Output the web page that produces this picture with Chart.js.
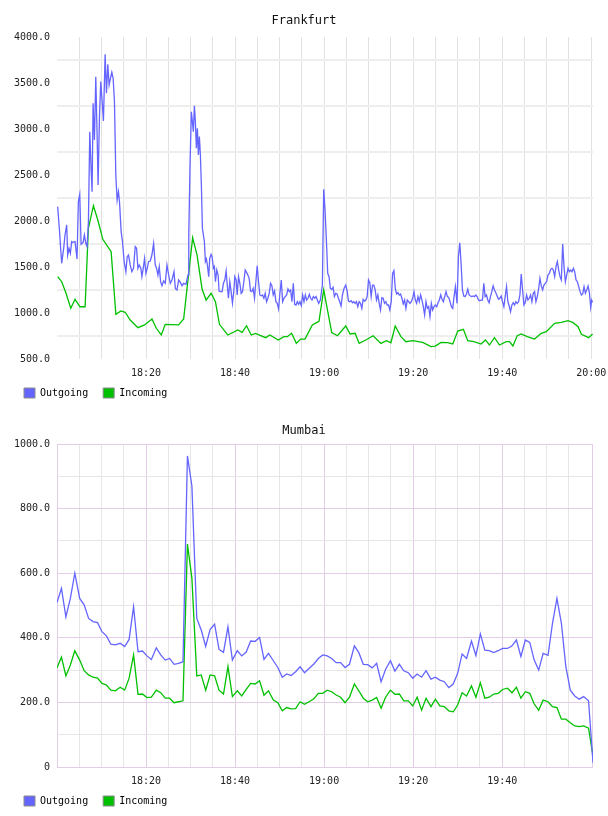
<!DOCTYPE html>
<html><head><meta charset="utf-8">
<script src="https://cdn.jsdelivr.net/npm/chart.js@4.4.1/dist/chart.umd.min.js"></script>
<style>
html,body{margin:0;padding:0;background:#fff;}
#wrap{position:relative;width:608px;height:816px;overflow:hidden;}
canvas{position:absolute;left:0;}
#c1{top:0}
#c2{top:408px}
</style></head><body>
<div id="wrap"><canvas id="c1" width="608" height="408"></canvas><canvas id="c2" width="608" height="408"></canvas></div>
<script>
// ---------------- DATA ----------------
const seriesNames = ['Outgoing', 'Incoming'];
const chartTitles = ['Frankfurt', 'Mumbai'];

// minutes after 18:00 at which the time labels sit, and their texts
const xLabelMinutes = [20, 40, 60, 80, 100, 120];
const frankfurtXLabels = ['18:20', '18:40', '19:00', '19:20', '19:40', '20:00'];
const mumbaiXLabels = ['18:20', '18:40', '19:00', '19:20', '19:40', ''];

// value-axis labels
const frankfurtYLabels = [500, 1000, 1500, 2000, 2500, 3000, 3500, 4000];
const mumbaiYLabels = [0, 200, 400, 600, 800, 1000];

// Frankfurt outgoing: [minutes after 18:00, value]
const frankfurtOutgoing = [
[0.15,2156],[0.52,1921],[1.05,1540],[1.50,1703],[1.80,1848],[2.18,1957],[2.40,1630],[2.70,1703],[3.00,1649],[3.30,1775],
[3.53,1768],[4.05,1775],[4.50,1587],[4.80,2210],[5.11,2290],[5.41,1747],[5.86,1768],[6.16,1848],[6.46,1757],[6.76,1721],
[7.06,1993],[7.36,2971],[7.66,2573],[7.88,2319],[8.11,3279],[8.41,2881],[8.71,3569],[9.01,2935],[9.23,2391],[9.53,3116],
[9.83,3515],[10.14,3297],[10.43,3087],[10.81,3812],[11.11,3388],[11.41,3703],[11.71,3478],[12.01,3551],[12.31,3616],[12.61,3551],
[12.91,3297],[13.21,2500],[13.51,2228],[13.81,2319],[14.04,2210],[14.41,1884],[14.71,1775],[15.09,1558],[15.47,1449],[15.77,1612],
[16.07,1630],[16.44,1522],[16.82,1449],[17.19,1486],[17.57,1721],[17.87,1703],[18.17,1486],[18.47,1522],[18.84,1486],[19.07,1395],
[19.37,1486],[19.67,1594],[19.97,1431],[20.27,1486],[20.57,1558],[20.95,1565],[21.32,1630],[21.70,1757],[22.07,1522],[22.37,1486],
[22.67,1413],[22.97,1504],[23.27,1340],[23.57,1297],[23.95,1348],[24.32,1323],[24.70,1522],[25.08,1413],[25.45,1323],[25.83,1359],
[26.28,1449],[26.58,1268],[26.95,1250],[27.33,1359],[27.70,1333],[28.08,1297],[28.45,1323],[28.98,1312],[29.43,1413],[29.60,1850],
[29.88,2600],[30.18,3188],[30.41,3080],[30.63,2971],[30.86,3253],[31.08,3080],[31.31,2790],[31.53,3007],[31.76,2717],[31.98,2917],
[32.21,2717],[32.43,2391],[32.66,1921],[32.88,1848],[33.11,1775],[33.33,1558],[33.56,1587],[33.78,1522],[34.08,1395],[34.31,1594],
[34.61,1638],[34.83,1612],[35.14,1486],[35.36,1504],[35.59,1340],[35.89,1467],[36.19,1413],[36.41,1239],[36.71,1232],[37.09,1232],
[37.39,1323],[37.69,1359],[37.99,1457],[38.21,1323],[38.51,1160],[38.81,1340],[39.11,1232],[39.41,1105],[39.71,1232],[39.94,1395],
[40.24,1359],[40.47,1196],[40.77,1395],[41.07,1323],[41.37,1214],[41.67,1232],[41.97,1340],[42.27,1467],[42.57,1442],[42.87,1413],
[43.17,1377],[43.47,1239],[43.77,1232],[44.07,1268],[44.37,1160],[44.67,1340],[44.97,1514],[45.27,1340],[45.57,1196],[45.87,1188],
[46.17,1196],[46.47,1160],[46.77,1214],[47.07,1123],[47.37,1160],[47.67,1214],[47.97,1323],[48.27,1297],[48.57,1196],[48.87,1239],
[49.17,1123],[49.47,1105],[49.77,1044],[50.07,1214],[50.38,1359],[50.68,1123],[50.98,1160],[51.28,1178],[51.58,1196],[51.88,1261],
[52.18,1232],[52.48,1250],[52.78,1123],[53.08,1323],[53.38,1094],[53.68,1087],[53.98,1123],[54.28,1094],[54.58,1123],[54.88,1080],
[55.18,1196],[55.48,1123],[55.78,1196],[56.08,1141],[56.38,1160],[56.68,1203],[56.98,1160],[57.28,1141],[57.58,1178],[57.88,1160],
[58.18,1178],[58.48,1141],[58.78,1105],[59.16,1141],[59.61,1304],[59.91,2344],[60.21,2120],[60.51,1794],[60.81,1431],[61.11,1395],
[61.41,1268],[61.71,1258],[62.01,1279],[62.31,1178],[62.61,1214],[62.91,1207],[63.21,1160],[63.51,1123],[63.81,1076],[64.11,1196],
[64.49,1268],[64.86,1304],[65.16,1242],[65.47,1130],[65.77,1123],[66.07,1134],[66.37,1112],[66.67,1123],[66.97,1105],[67.27,1123],
[67.57,1069],[67.87,1123],[68.17,1105],[68.47,1051],[68.77,1149],[69.07,1130],[69.37,1141],[69.67,1178],[69.97,1359],[70.27,1329],
[70.57,1178],[70.87,1304],[71.17,1304],[71.47,1250],[71.77,1141],[72.07,1196],[72.37,1105],[72.67,1033],[72.97,1167],[73.27,1160],
[73.57,1105],[73.87,1123],[74.17,1087],[74.47,1087],[74.77,1033],[75.08,1123],[75.38,1431],[75.68,1460],[75.98,1268],[76.28,1207],
[76.58,1221],[76.88,1196],[77.18,1207],[77.48,1160],[77.78,1098],[78.08,1141],[78.38,1051],[78.68,1141],[78.98,1123],[79.28,1105],
[79.58,1123],[79.88,1160],[80.18,1232],[80.48,1141],[80.78,1105],[81.08,1178],[81.38,1123],[81.68,1196],[81.98,1141],[82.28,1069],
[82.58,978],[82.88,1123],[83.18,1051],[83.48,1069],[83.78,960],[84.08,1105],[84.38,1033],[84.68,1069],[84.98,1087],[85.29,1069],
[85.59,1112],[85.89,1141],[86.19,1196],[86.49,1149],[86.79,1123],[87.09,1178],[87.39,1232],[87.69,1178],[87.99,1170],[88.29,1123],
[88.59,1069],[88.89,1051],[89.19,1178],[89.49,1286],[89.86,1105],[90.17,1612],[90.47,1764],[90.77,1540],[91.07,1250],[91.37,1185],
[91.67,1178],[91.97,1207],[92.27,1258],[92.57,1196],[92.87,1185],[93.17,1178],[93.47,1185],[93.77,1178],[94.07,1196],[94.37,1178],
[94.67,1141],[94.97,1134],[95.27,1141],[95.57,1141],[95.87,1323],[96.17,1178],[96.47,1196],[96.77,1141],[97.07,1112],[97.37,1178],
[97.67,1232],[97.97,1294],[98.27,1250],[98.57,1221],[98.87,1185],[99.17,1149],[99.47,1160],[99.77,1185],[100.07,1123],[100.38,1069],
[100.68,1178],[100.98,1286],[101.28,1123],[101.58,1076],[101.88,1014],[102.18,1087],[102.48,1112],[102.78,1087],[103.08,1123],[103.38,1105],
[103.68,1123],[103.98,1196],[104.28,1424],[104.58,1250],[104.88,1087],[105.18,1112],[105.48,1196],[105.78,1141],[106.08,1160],[106.38,1196],
[106.68,1123],[106.98,1214],[107.28,1232],[107.58,1123],[107.88,1178],[108.18,1258],[108.48,1377],[108.78,1294],[109.08,1250],[109.38,1304],
[109.68,1323],[109.98,1340],[110.29,1413],[110.59,1431],[110.89,1475],[111.19,1486],[111.49,1467],[111.79,1395],[112.09,1504],[112.39,1558],
[112.69,1467],[112.99,1395],[113.29,1359],[113.59,1750],[113.89,1504],[114.19,1340],[114.49,1413],[114.79,1486],[115.09,1449],[115.39,1467],
[115.69,1449],[115.99,1486],[116.29,1449],[116.59,1359],[116.89,1340],[117.19,1286],[117.49,1232],[117.79,1196],[118.09,1207],[118.39,1286],
[118.69,1214],[118.99,1250],[119.29,1294],[119.59,1221],[119.89,1062],[120.10,1140],[120.30,1116]
];

// Frankfurt incoming: [minutes after 18:00, value]
const frankfurtIncoming = [
[0.16,1395],[1.06,1340],[2.03,1214],[3.09,1051],[4.05,1149],[5.18,1068],[6.31,1068],[7.05,1921],[8.18,2166],[9.17,2011],
[10.29,1801],[12.16,1666],[13.22,986],[14.35,1022],[15.32,1008],[16.44,924],[18.18,840],[19.66,870],[21.33,935],[22.30,834],
[23.42,761],[24.32,877],[27.32,870],[28.45,935],[30.47,1818],[31.46,1630],[32.59,1261],[33.49,1141],[34.62,1214],[35.59,1123],
[36.49,877],[38.36,761],[40.61,815],[41.60,790],[42.57,862],[43.63,761],[44.59,779],[46.85,732],[47.82,761],[49.71,707],
[50.97,743],[51.73,743],[52.70,779],[53.76,670],[54.73,717],[55.70,717],[57.36,870],[58.11,890],[58.85,910],[59.91,1250],
[61.71,786],[63.00,753],[64.86,859],[65.83,772],[66.96,779],[67.86,670],[69.37,707],[71.01,753],[72.75,670],[74.03,699],
[75.00,677],[75.97,859],[77.25,743],[78.38,688],[79.89,699],[82.14,681],[84.01,634],[84.98,641],[86.26,681],[87.77,677],
[88.90,663],[90.02,804],[91.28,823],[92.27,699],[93.63,688],[95.27,663],[96.24,707],[97.14,652],[98.27,732],[99.39,652],
[100.90,688],[101.64,688],[102.41,641],[103.38,753],[104.28,772],[105.63,743],[107.27,717],[108.78,779],[109.91,797],[111.78,888],
[113.29,899],[114.80,917],[115.92,895],[117.05,851],[117.79,768],[119.44,732],[120.30,772]
];

// Mumbai sample times (minutes after 18:00)
const mumbaiMinutes = [
0.0,1.0,2.0,3.0,4.0,5.1,6.1,7.1,8.1,9.1,
10.1,11.1,12.1,13.1,14.2,15.2,16.2,17.2,18.2,19.2,
20.2,21.2,22.3,23.3,24.3,25.3,26.3,27.3,28.3,29.3,
30.3,31.4,32.4,33.4,34.4,35.4,36.4,37.4,38.4,39.4,
40.5,41.5,42.5,43.5,44.5,45.5,46.5,47.5,48.6,49.6,
50.6,51.6,52.6,53.6,54.6,55.6,56.6,57.7,58.7,59.7,
60.7,61.7,62.7,63.7,64.7,65.7,66.8,67.8,68.8,69.8,
70.8,71.8,72.8,73.8,74.9,75.9,76.9,77.9,78.9,79.9,
80.9,81.9,82.9,84.0,85.0,86.0,87.0,88.0,89.0,90.0,
91.0,92.0,93.1,94.1,95.1,96.1,97.1,98.1,99.1,100.1,
101.2,102.2,103.2,104.2,105.2,106.2,107.2,108.2,109.2,110.3,
111.3,112.3,113.3,114.3,115.3,116.3,117.3,118.3,119.4,120.4
];
const mumbaiOutgoing = [
509,553,465,522,600,522,502,460,450,447,
419,406,380,378,383,373,395,496,357,359,
344,333,369,347,331,336,318,321,326,963,
870,460,424,373,426,442,364,355,434,331,
360,344,356,390,389,401,333,352,329,308,
278,288,283,295,310,292,305,319,336,347,
344,336,323,323,308,318,375,354,318,317,
307,321,264,302,329,297,318,298,292,275,
288,278,298,272,278,269,264,246,257,290,
350,336,390,345,412,362,360,354,360,367,
367,375,393,342,393,386,331,300,352,346,
445,522,445,311,238,220,210,218,205,13
];
const mumbaiIncoming = [
307,340,282,316,360,331,298,285,278,275,
259,254,238,236,247,238,275,347,225,226,
215,216,238,230,213,213,199,202,205,690,
585,282,285,238,285,282,238,226,311,218,
236,220,240,259,257,267,222,236,207,199,
174,184,180,181,202,194,202,211,228,228,
238,233,223,216,199,216,257,236,213,202,
207,215,182,216,238,225,226,205,205,189,
216,176,213,187,210,189,187,174,171,192,
230,220,251,216,261,213,216,226,228,240,
244,230,247,213,233,228,195,176,207,202,
187,184,148,148,137,127,125,127,120,34
];

// ---------------- STYLE ----------------
const OUT_COLOR = '#6464ff';
const IN_COLOR = '#00c000';
const FONT = "'DejaVu Sans Mono', 'Liberation Mono', monospace";
Chart.defaults.font.family = FONT;
Chart.defaults.font.size = 10;
Chart.defaults.color = '#222';

const gridMinutes = [];
for (let m = 0; m <= 120; m += 5) gridMinutes.push(m);

function toPoints(pairs) { return pairs.map(p => ({x: p[0], y: p[1]})); }
function zipPoints(xs, ys) { return xs.map((x, i) => ({x: x, y: ys[i]})); }

const pinkBorder = {
  id: 'pinkBorder',
  beforeDatasetsDraw(chart, args, opts) {
    if (!opts || !opts.color) return;
    const a = chart.chartArea, ctx = chart.ctx;
    ctx.save();
    ctx.strokeStyle = opts.color;
    ctx.lineWidth = 1;
    ctx.strokeRect(Math.round(a.left) + 0.5, Math.round(a.top) + 0.5,
                   Math.round(a.right - a.left) - 1, Math.round(a.bottom - a.top));
    ctx.restore();
  }
};

function makeChart(canvas, cfg) {
  return new Chart(canvas, {
    type: 'line',
    data: {
      datasets: [
        {label: seriesNames[0], data: cfg.out, borderColor: OUT_COLOR, backgroundColor: OUT_COLOR,
         borderWidth: 1.3, pointRadius: 0, tension: 0, fill: false},
        {label: seriesNames[1], data: cfg.inc, borderColor: IN_COLOR, backgroundColor: IN_COLOR,
         borderWidth: 1.3, pointRadius: 0, tension: 0, fill: false}
      ]
    },
    plugins: [pinkBorder],
    options: {
      responsive: false,
      animation: false,
      events: [],
      devicePixelRatio: 1,
      layout: {padding: {left: 9, right: 9, top: 0, bottom: 0}},
      scales: {
        x: {
          type: 'linear', min: 0, max: 120.4,
          afterBuildTicks: s => { s.ticks = gridMinutes.map(v => ({value: v})); },
          afterFit: s => {
            s.height = 14; s.paddingRight = 15; s.paddingLeft = 0;
            s._computeLabelArea = () => undefined;
          },
          ticks: {
            autoSkip: false, maxRotation: 0, minRotation: 0, padding: 8,
            color: '#222', font: {size: 10},
            callback: v => { const i = xLabelMinutes.indexOf(v); return i >= 0 ? cfg.xLabels[i] : ''; }
          },
          grid: {drawTicks: false, lineWidth: 1, color: cfg.xGrid},
          border: {display: false}
        },
        y: {
          min: cfg.yMin, max: cfg.yMax,
          afterFit: s => { s.width = 48; },
          ticks: {
            autoSkip: false, stepSize: cfg.yStep, padding: 7, color: '#222', font: {size: 10},
            callback: v => cfg.yLabels.indexOf(v) >= 0 ? (v === 0 ? '0' : v.toFixed(1)) : ''
          },
          grid: {drawTicks: false, lineWidth: cfg.yGridWidth, color: cfg.yGrid},
          border: {display: false}
        }
      },
      plugins: {
        tooltip: {enabled: false},
        pinkBorder: {color: cfg.borderColor},
        title: {
          display: true, text: cfg.title, color: '#111',
          font: {size: 12, weight: 'normal', family: FONT},
          padding: cfg.titlePad
        },
        legend: {
          position: 'bottom', align: 'start',
          labels: {
            boxWidth: 11, boxHeight: 10, padding: 15, color: '#000', font: {size: 10},
            generateLabels: ch => ch.data.datasets.map((d, i) => ({
              text: d.label, fillStyle: d.borderColor, strokeStyle: '#8a8a8a', lineWidth: 1,
              hidden: false, datasetIndex: i, fontColor: '#000'
            }))
          }
        }
      }
    }
  });
}

// Frankfurt
makeChart(document.getElementById('c1'), {
  title: chartTitles[0],
  out: toPoints(frankfurtOutgoing),
  inc: toPoints(frankfurtIncoming),
  xLabels: frankfurtXLabels,
  yMin: 500, yMax: 4000, yStep: 250, yLabels: frankfurtYLabels,
  yGridWidth: 2,
  yGrid: ctx => (ctx.tick && ctx.tick.value % 500 === 250) ? '#eeeeee' : 'rgba(0,0,0,0)',
  xGrid: ctx => (ctx.tick && ctx.tick.value > 0) ? '#e2e2e2' : 'rgba(0,0,0,0)',
  titlePad: {top: 14, bottom: 8.6},
  borderColor: null
});

// Mumbai
const PINK = '#e3cde6';
const MINOR = '#e6e6e6';
makeChart(document.getElementById('c2'), {
  title: chartTitles[1],
  out: zipPoints(mumbaiMinutes, mumbaiOutgoing),
  inc: zipPoints(mumbaiMinutes, mumbaiIncoming),
  xLabels: mumbaiXLabels,
  yMin: 0, yMax: 1000, yStep: 100, yLabels: mumbaiYLabels,
  yGridWidth: 1,
  yGrid: ctx => (ctx.tick && ctx.tick.value % 200 === 0) ? PINK : MINOR,
  xGrid: ctx => {
    if (!ctx.tick) return MINOR;
    const v = ctx.tick.value;
    if (v === 120) return 'rgba(0,0,0,0)';
    return v % 20 === 0 ? PINK : MINOR;
  },
  titlePad: {top: 15.8, bottom: 5.8},
  borderColor: PINK
});
</script>
</body></html>
